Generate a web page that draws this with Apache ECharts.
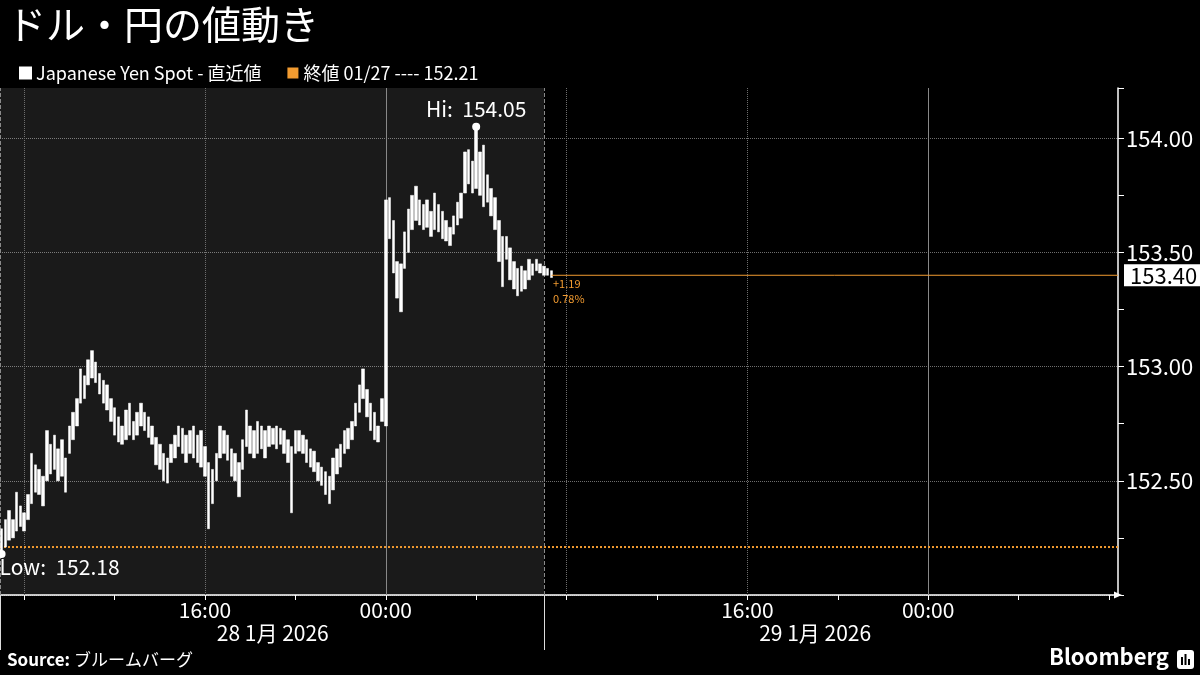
<!DOCTYPE html>
<html>
<head>
<meta charset="utf-8">
<title>ドル・円の値動き</title>
<script src="https://cdn.jsdelivr.net/npm/echarts@6/dist/echarts.min.js"></script>
<style>
html, body { margin: 0; padding: 0; background: #000; }
#main { width: 1200px; height: 675px; }
</style>
</head>
<body>
<div id="main"></div>
<script>
// 10分足 (2026-01-28 07:00 から) の安値・高値
var barLow = [
  152.18, 152.21, 152.24, 152.25, 152.28, 152.30, 152.28, 152.33, 152.40, 152.45,
  152.44, 152.39, 152.50, 152.53, 152.55, 152.50, 152.52, 152.45, 152.62, 152.68,
  152.74, 152.84, 152.86, 152.92, 152.95, 152.93, 152.88, 152.84, 152.81, 152.76,
  152.70, 152.67, 152.66, 152.68, 152.70, 152.68, 152.70, 152.74, 152.72, 152.69,
  152.66, 152.57, 152.55, 152.50, 152.49, 152.58, 152.60, 152.65, 152.62, 152.58,
  152.62, 152.60, 152.58, 152.56, 152.52, 152.29, 152.40, 152.50, 152.60, 152.62,
  152.59, 152.52, 152.50, 152.43, 152.55, 152.65, 152.62, 152.60, 152.62, 152.64,
  152.60, 152.65, 152.66, 152.64, 152.66, 152.62, 152.58, 152.36, 152.62, 152.63,
  152.62, 152.58, 152.56, 152.54, 152.50, 152.48, 152.44, 152.40, 152.46, 152.53,
  152.56, 152.62, 152.64, 152.68, 152.74, 152.80, 152.86, 152.78, 152.72, 152.68,
  152.67, 152.76, 152.74, 153.56, 153.41, 153.30, 153.24, 153.43, 153.50, 153.60,
  153.64, 153.62, 153.60, 153.61, 153.57, 153.60, 153.59, 153.56, 153.55, 153.53,
  153.58, 153.62, 153.65, 153.76, 153.80, 153.76, 153.78, 153.75, 153.70, 153.72,
  153.66, 153.60, 153.46, 153.35, 153.47, 153.38, 153.34, 153.31, 153.33, 153.34,
  153.38, 153.40, 153.42, 153.41, 153.40, 153.40, 153.39
];
var barHigh = [
  152.29, 152.33, 152.37, 152.33, 152.45, 152.39, 152.36, 152.44, 152.62, 152.57,
  152.55, 152.52, 152.72, 152.66, 152.70, 152.64, 152.68, 152.60, 152.74, 152.80,
  152.86, 152.99, 152.96, 153.03, 153.07, 153.02, 152.97, 152.94, 152.92, 152.86,
  152.82, 152.78, 152.74, 152.81, 152.84, 152.76, 152.80, 152.84, 152.80, 152.78,
  152.74, 152.69, 152.66, 152.62, 152.60, 152.66, 152.70, 152.74, 152.73, 152.70,
  152.72, 152.74, 152.70, 152.72, 152.65, 152.58, 152.55, 152.62, 152.74, 152.72,
  152.70, 152.64, 152.62, 152.58, 152.68, 152.81, 152.74, 152.72, 152.76, 152.74,
  152.72, 152.74, 152.73, 152.74, 152.73, 152.72, 152.68, 152.65, 152.72, 152.72,
  152.70, 152.68, 152.64, 152.63, 152.58, 152.56, 152.54, 152.52, 152.60, 152.64,
  152.66, 152.72, 152.73, 152.76, 152.84, 152.92, 152.99, 152.90, 152.84, 152.80,
  152.74, 152.86, 153.73, 153.74, 153.64, 153.46, 153.45, 153.59, 153.69, 153.75,
  153.79, 153.73, 153.71, 153.73, 153.68, 153.76, 153.71, 153.68, 153.64, 153.61,
  153.66, 153.72, 153.76, 153.94, 153.95, 153.90, 154.05, 153.94, 153.97, 153.84,
  153.78, 153.74, 153.64, 153.57, 153.57, 153.52, 153.46, 153.43, 153.44, 153.42,
  153.47, 153.45, 153.47, 153.45, 153.44, 153.43, 153.42
];
var startHour = 7;          // 1/28 07:00 (時間は 1/28 00:00 からの経過時間)
var stepHour = 1 / 6;       // 10分
var prevClose = 152.21;
var lastPrice = 153.40;
var changeText = ['+1.19', '0.78%'];

// 軸
var xMin = 6.93, xMax = 56.4;
var sessionEnd = 31;
var hourTicks = [8, 12, 16, 20, 24, 28, 32, 36, 40, 44, 48, 52, 56];
var hourLabels = [16, 24, 40, 48];
var dottedGrid = [8, 16, 32, 40];
var dayBreaks = [24, 48];
var dayEdges = [6.95, 31];
var dayCenters = [19, 43];
var dayLabels = ['28 1月 2026', '29 1月 2026'];
var yMin = 152, yMax = 154.22;

var FONT = '"Noto Sans CJK JP", "Noto Sans", sans-serif';
var ORANGE = '#f29b30';
var GRID_GRAY = '#6e6e6e';

var chart = echarts.init(document.getElementById('main'));

var candles = [];
var hiIdx = 0, loIdx = 0;
for (var i = 0; i < barLow.length; i++) {
  var t = startHour + i * stepHour;
  candles.push([t, barLow[i], barHigh[i], barLow[i], barHigh[i]]);
  if (barHigh[i] > barHigh[hiIdx]) hiIdx = i;
  if (barLow[i] < barLow[loIdx]) loIdx = i;
}
var lastT = startHour + (barLow.length - 1) * stepHour;

var gridMarks = [];
dottedGrid.forEach(function (h) {
  gridMarks.push({ xAxis: h, lineStyle: { type: 'dotted', color: GRID_GRAY, width: 1 } });
});
dayBreaks.forEach(function (h) {
  gridMarks.push({ xAxis: h, lineStyle: { type: 'solid', color: '#888', width: 1 } });
});
gridMarks.push({ xAxis: xMin + 0.03, lineStyle: { type: 'dashed', color: '#8a8a8a', width: 1 } });
gridMarks.push({ xAxis: sessionEnd, lineStyle: { type: 'dashed', color: '#8a8a8a', width: 1 } });

function isHalf(v) {
  return Math.abs(v * 2 - Math.round(v * 2)) < 1e-6;
}

var option = {
  backgroundColor: '#000',
  animation: false,
  textStyle: { fontFamily: FONT },
  title: {
    text: 'ドル・円の値動き',
    left: 2,
    top: 0,
    textStyle: { color: '#fff', fontSize: 39, fontWeight: 'normal', fontFamily: FONT }
  },
  legend: {
    left: 14,
    top: 59,
    itemWidth: 11,
    itemHeight: 11,
    itemGap: 26,
    textStyle: { color: '#fff', fontSize: 18, fontFamily: FONT },
    data: [
      { name: 'Japanese Yen Spot - 直近値', icon: 'rect', itemStyle: { color: '#fff' } },
      { name: '終値 01/27 ---- 152.21', icon: 'rect', itemStyle: { color: ORANGE } }
    ]
  },
  grid: { left: 0, right: 82, top: 88, bottom: 80, containLabel: false },
  xAxis: [
    {
      type: 'value',
      min: xMin,
      max: xMax,
      position: 'bottom',
      axisLine: { show: true, lineStyle: { color: '#fff', width: 1.5 }, symbol: ['none', 'triangle'], symbolSize: [7, 8] },
      axisTick: { show: true, customValues: hourTicks, length: 5, lineStyle: { color: '#fff', width: 1 } },
      axisLabel: {
        customValues: hourLabels,
        color: '#fff',
        fontSize: 21,
        margin: 5,
        fontFamily: FONT,
        formatter: function (v) {
          var h = Math.round(v) % 24;
          return (h < 10 ? '0' + h : h) + ':00';
        }
      },
      splitLine: { show: false }
    },
    {
      type: 'value',
      min: xMin,
      max: xMax,
      position: 'bottom',
      axisLine: { show: false },
      axisTick: { show: true, customValues: dayEdges, length: 55, lineStyle: { color: '#ddd', width: 1 } },
      axisLabel: {
        customValues: dayCenters,
        color: '#fff',
        fontSize: 21,
        margin: 28,
        fontFamily: FONT,
        formatter: function (v) {
          return dayLabels[dayCenters.indexOf(v)];
        }
      },
      splitLine: { show: false }
    }
  ],
  yAxis: {
    type: 'value',
    position: 'right',
    min: yMin,
    max: yMax,
    interval: 0.25,
    axisLine: { show: true, lineStyle: { color: '#fff', width: 1.5 } },
    axisTick: { show: true, length: 6, lineStyle: { color: '#fff', width: 1 } },
    axisLabel: {
      color: '#fff',
      fontSize: 22,
      margin: 8,
      fontFamily: FONT,
      formatter: function (v) { return (isHalf(v) && v > yMin) ? v.toFixed(2) : ''; }
    },
    splitLine: { show: true, lineStyle: { color: [GRID_GRAY, 'rgba(0,0,0,0)'], type: 'dotted', width: 1 } }
  },
  series: [
    {
      name: '終値 01/27 ---- 152.21',
      type: 'line',
      z: 1,
      symbol: 'none',
      silent: true,
      data: [[xMin, prevClose], [xMax, prevClose]],
      lineStyle: { color: ORANGE, type: 'dotted', width: 2 },
      itemStyle: { color: ORANGE },
      markArea: {
        silent: true,
        itemStyle: { color: 'rgba(255,255,255,0.1)' },
        data: [[{ xAxis: xMin }, { xAxis: sessionEnd }]]
      },
      markLine: {
        silent: true,
        z: 1,
        symbol: ['none', 'none'],
        label: { show: false },
        data: gridMarks
      }
    },
    {
      name: 'Japanese Yen Spot - 直近値',
      type: 'candlestick',
      z: 3,
      barWidth: 3,
      data: candles,
      itemStyle: {
        color: '#fff', color0: '#fff',
        borderColor: '#fff', borderColor0: '#fff',
        borderWidth: 0.5
      },
      markPoint: {
        symbol: 'circle',
        symbolSize: 8,
        silent: true,
        itemStyle: { color: '#fff' },
        data: [
          {
            coord: [startHour + hiIdx * stepHour, barHigh[hiIdx]],
            label: {
              show: true, position: 'top', distance: 3,
              color: '#fff', fontSize: 21, fontFamily: FONT,
              formatter: 'Hi:  ' + barHigh[hiIdx].toFixed(2)
            }
          },
          {
            coord: [startHour + loIdx * stepHour, barLow[loIdx]],
            label: {
              show: true, position: [2, 7], align: 'left', verticalAlign: 'top',
              color: '#fff', fontSize: 21, fontFamily: FONT,
              formatter: 'Low:  ' + barLow[loIdx].toFixed(2)
            }
          }
        ]
      }
    },
    {
      name: 'last',
      type: 'line',
      z: 4,
      symbol: 'none',
      silent: true,
      data: [[lastT, lastPrice], [xMax, lastPrice]],
      lineStyle: { color: ORANGE, width: 1 },
      endLabel: {
        show: true,
        distance: 6,
        formatter: lastPrice.toFixed(2),
        color: '#000',
        backgroundColor: '#fff',
        fontSize: 22,
        fontFamily: FONT,
        padding: [0, 4, 0, 6]
      },
      markPoint: {
        symbol: 'circle',
        symbolSize: 1,
        silent: true,
        itemStyle: { color: 'rgba(0,0,0,0)' },
        data: [{
          coord: [lastT, lastPrice],
          label: {
            show: true, position: [2, 2], align: 'left', verticalAlign: 'top',
            color: ORANGE, fontSize: 11, lineHeight: 15, fontFamily: FONT,
            formatter: changeText.join('\n')
          }
        }]
      }
    }
  ],
  graphic: [
    {
      type: 'text',
      left: 7,
      top: 651,
      style: {
        text: '{b|Source:} ブルームバーグ',
        fill: '#fff',
        fontSize: 17,
        fontFamily: FONT,
        rich: { b: { fontWeight: 'bold', fontSize: 17, fill: '#fff', fontFamily: FONT } }
      }
    },
    {
      type: 'text',
      right: 31,
      top: 646,
      style: { text: 'Bloomberg', fill: '#fff', fontSize: 22, fontWeight: 'bold', fontFamily: FONT }
    },
    {
      type: 'group',
      right: 6,
      top: 650,
      children: [
        { type: 'rect', shape: { x: 0, y: 0, width: 17, height: 19, r: 3 }, style: { fill: '#fff' } },
        { type: 'rect', shape: { x: 4, y: 7, width: 2, height: 8 }, style: { fill: '#000' } },
        { type: 'rect', shape: { x: 7.5, y: 4, width: 2, height: 11 }, style: { fill: '#000' } },
        { type: 'rect', shape: { x: 11, y: 9, width: 2, height: 6 }, style: { fill: '#000' } }
      ]
    }
  ]
};

chart.setOption(option);
</script>
</body>
</html>
